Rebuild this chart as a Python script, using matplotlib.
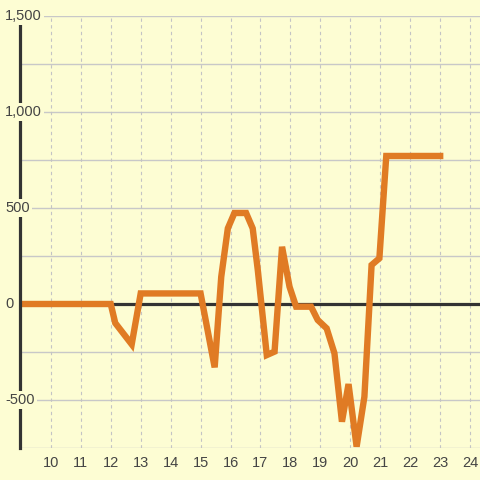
import numpy as np
import matplotlib.pyplot as plt
from matplotlib.transforms import blended_transform_factory

# values (hours vs value)
hours = [8.9, 12.0, 12.15, 12.7, 13.0, 15.0, 15.47, 15.69, 15.91, 16.13, 16.52, 16.74, 16.91,
         17.21, 17.47, 17.72, 17.97, 18.19, 18.69, 18.91, 19.21, 19.47, 19.72, 19.94,
         20.21, 20.47, 20.71, 20.97, 21.2, 23.0]
values = [0, 0, -99, -210, 55, 55, -330, 142, 394, 474, 474, 394, 177,
          -266, -248, 298, 90, -14, -14, -83, -127, -257, -613, -417,
          -743, -483, 203, 238, 771, 771]

x_ticks = list(range(10, 25))
y_ticks = [-500, 0, 500, 1000, 1500]
y_labels = ['-500', '0', '500', '1,000', '1,500']
y_grid = np.arange(-750, 1501, 250)

bg = '#fdfdd3'
fig = plt.figure(figsize=(4.8, 4.8), dpi=100, facecolor=bg)
ax = fig.add_axes([20 / 480, 32 / 480, 460 / 480, 432 / 480])
ax.set_facecolor(bg)

for v in y_grid:
    ax.axhline(v, color='#c8c8c8', lw=1, zorder=1)
for t in x_ticks:
    ax.axvline(t, color='#c4c4c4', lw=0.8, ls=(0, (3, 3)), zorder=1)
ax.axhline(0, color='#333333', lw=2.3, zorder=2)

ax.plot(hours, values, color='#e07b24', lw=4.6, solid_joinstyle='miter', zorder=3)

ax.set_xlim(8.97, 24.33)
ax.set_ylim(-750, 1500)
ax.set_xticks(x_ticks)
ax.set_yticks([])
ax.tick_params(axis='x', length=0, pad=6, labelsize=10.5, labelcolor='#444444')
for lab in ax.get_xticklabels():
    lab.set_fontfamily('Liberation Sans')

for s in ['top', 'right', 'bottom']:
    ax.spines[s].set_visible(False)
ax.spines['left'].set_color('#333333')
ax.spines['left'].set_linewidth(2.3)
ax.spines['left'].set_zorder(4)

trans = blended_transform_factory(fig.transFigure, ax.transData)
for v, lab in zip(y_ticks, y_labels):
    ax.text(5 / 480, v, lab, transform=trans, ha='left', va='center', fontsize=10.5,
            color='#444444', family='Liberation Sans', zorder=5, clip_on=False,
            bbox=dict(facecolor=bg, edgecolor='none', pad=1.5))

fig.savefig('out.png', dpi=100, facecolor=bg)
